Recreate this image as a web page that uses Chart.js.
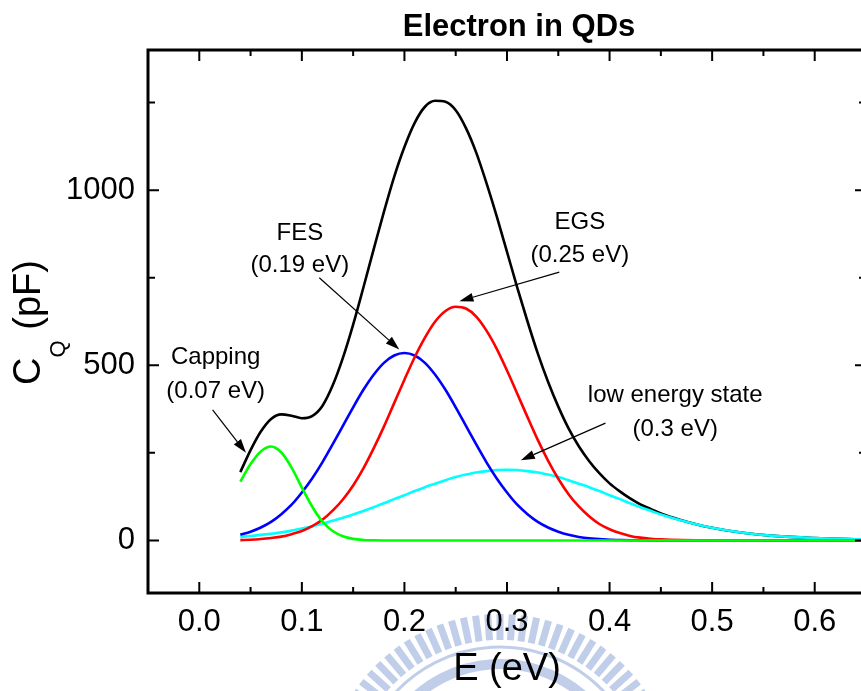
<!DOCTYPE html>
<html><head><meta charset="utf-8">
<script src="https://cdn.jsdelivr.net/npm/chart.js@4.4.0/dist/chart.umd.min.js"></script>
<style>
html,body{margin:0;padding:0;overflow:hidden;background:#fff;}
#wrap{position:relative;width:870px;height:691px;}
canvas{display:block;}
</style></head><body>
<div id="wrap"><canvas id="c" width="870" height="691" style="width:870px;height:691px"></canvas></div>
<script>
// ---- data ----
const energy = [0.04,0.05,0.06,0.07,0.08,0.09,0.10,0.11,0.12,0.13,0.14,0.15,0.16,0.17,0.18,0.19,0.20,0.21,0.22,0.23,0.24,0.25,0.26,0.27,0.28,0.29,0.30,0.31,0.32,0.33,0.34,0.35,0.36,0.37,0.38,0.39,0.40,0.41,0.42,0.43,0.44,0.45,0.47,0.50,0.53,0.56,0.60,0.65];
const cqTotal = [195,258,311,347,360,356,349,355,384,442,521,616,722,831,938,1038,1123,1192,1238,1255,1252,1228,1177,1107,1020,925,824,722,625,534,453,382,320,269,227,192,163,140,120,103,90,77,58,36,22,13,7,3];
const cqCapping = [168,218,254,268,251,208,151,97,54,27,12,4.5,1.5,0.4,0,0,0,0,0,0,0,0,0,0,0,0,0,0,0,0,0,0,0,0,0,0,0,0,0,0,0,0,0,0,0,0,0,0];
const cqFES = [16,25,37,53,75,102,137,177,223,274,327,380,430,473,507,528,535,528,507,473,430,380,327,274,223,177,137,102,75,53,37,25,16,10,6,4,2,1.3,0.7,0.4,0.2,0.1,0,0,0,0,0,0];
const cqEGS = [1,2,4,7,11,18,27,41,59,85,117,157,206,263,325,392,459,523,579,625,655,667,662,639,599,547,485,419,352,287,228,176,132,97,69,47,32,21,13,8,5,3,1,0,0,0,0,0];
const cqLowState = [10,12.5,16,19,23,28,34,40,48,56,65,74,84,95,106,118,129,141,152,162,172,181,188,194,198,201,202,201,198,194,188,181,172,162,152,141,129,118,106,95,85,74,57,36,22,13,7,3];
const xTickValues = [0.0,0.05,0.1,0.15,0.2,0.25,0.3,0.35,0.4,0.45,0.5,0.55,0.6];
const xTickLabels = [0.0,0.1,0.2,0.3,0.4,0.5,0.6];
const yTickValues = [0,250,500,750,1000,1250];
const yTickLabels = [0,500,1000];
// annotations (data coordinates)
const annoText = [["Capping","(0.07 eV)"],["FES","(0.19 eV)"],["EGS","(0.25 eV)"],["low energy state","(0.3 eV)"]];
const annoTextX = [0.016,0.098,0.371,0.464];
const annoLine1Y = [505,859,888,396];
const annoLine2Y = [408,765,796,299];
const arrowFrom = [[0.013,373],[0.117,750],[0.351,766],[0.396,335]];
const arrowTo = [[0.0455,250],[0.195,545],[0.2536,683],[0.3135,229]];

const FONT = "'Liberation Sans', Arial, Helvetica, sans-serif";
Chart.defaults.font.family = FONT;
Chart.defaults.color = '#000';

function pts(ys){ return energy.map((x,i)=>({x:x,y:ys[i]})); }

const watermark = {
  id:'watermark',
  beforeDraw(chart){
    const ctx = chart.ctx; ctx.save();
    ctx.fillStyle='#fff'; ctx.fillRect(0,0,chart.width,chart.height);
    const col='rgb(192,206,234)';
    const cx=500, cy=790;
    ctx.strokeStyle=col; ctx.lineCap='butt';
    ctx.lineWidth=7;
    for(let a=-56;a<=56.01;a+=4){
      const r=a*Math.PI/180, s=Math.sin(r), c=Math.cos(r);
      ctx.beginPath(); ctx.moveTo(cx+s*150,cy-c*150); ctx.lineTo(cx+s*176,cy-c*176); ctx.stroke();
    }
    ctx.lineWidth=3;
    ctx.beginPath(); ctx.arc(cx,cy,143,Math.PI*1.1,Math.PI*1.9); ctx.stroke();
    ctx.lineWidth=10;
    ctx.beginPath(); ctx.arc(cx,cy,126,Math.PI*1.1,Math.PI*1.9); ctx.stroke();
    ctx.restore();
  }
};

const frame = {
  id:'frame',
  afterDraw(chart){
    const ctx=chart.ctx, xs=chart.scales.x, ys=chart.scales.y;
    const {left,right,top,bottom}=chart.chartArea;
    ctx.save();
    ctx.strokeStyle='#000';
    ctx.lineWidth=2;
    xs.ticks.forEach(t=>{
      const v=t.value;
      const p=xs.getPixelForValue(v);
      const major=xTickLabels.some(l=>Math.abs(l-v)<1e-6);
      const len=major?11:6;
      ctx.beginPath(); ctx.moveTo(p,bottom); ctx.lineTo(p,bottom-len);
      ctx.moveTo(p,top); ctx.lineTo(p,top+len); ctx.stroke();
    });
    ys.ticks.forEach(t=>{
      const v=t.value;
      const p=ys.getPixelForValue(v);
      const major=yTickLabels.some(l=>Math.abs(l-v)<1e-6);
      const len=major?11:7;
      ctx.beginPath(); ctx.moveTo(left,p); ctx.lineTo(left+len,p);
      ctx.moveTo(right,p); ctx.lineTo(right-len,p); ctx.stroke();
    });
    ctx.lineWidth=3;
    ctx.strokeRect(left,top,right-left,bottom-top);

    // title
    ctx.fillStyle='#000';
    ctx.textAlign='center'; ctx.textBaseline='alphabetic';
    ctx.font='bold 31px '+FONT;
    ctx.fillText('Electron in QDs',519,36);
    // x title
    ctx.font='38px '+FONT;
    ctx.fillText('E (eV)',(left+right)/2,680);
    // y title with subscript
    ctx.save();
    ctx.translate(40,(top+bottom)/2+1);
    ctx.rotate(-Math.PI/2);
    ctx.textAlign='left';
    const fMain='38px '+FONT, fSub='22px '+FONT;
    ctx.font=fMain; const w1=ctx.measureText('C').width, w3=ctx.measureText(' (pF)').width;
    ctx.font=fSub; const w2=ctx.measureText('Q').width;
    let x0=-(w1+w2+w3)/2;
    ctx.font=fMain; ctx.fillText('C',x0,0);
    ctx.font=fSub; ctx.fillText('Q',x0+w1,25);
    ctx.font=fMain; ctx.fillText(' (pF)',x0+w1+w2,0);
    ctx.restore();

    // annotations
    ctx.font='24px '+FONT; ctx.textAlign='center';
    annoText.forEach((lines,i)=>{
      const tx=xs.getPixelForValue(annoTextX[i]);
      ctx.fillText(lines[0],tx,ys.getPixelForValue(annoLine1Y[i]));
      ctx.fillText(lines[1],tx,ys.getPixelForValue(annoLine2Y[i]));
      const x1=xs.getPixelForValue(arrowFrom[i][0]), y1=ys.getPixelForValue(arrowFrom[i][1]);
      const x2=xs.getPixelForValue(arrowTo[i][0]), y2=ys.getPixelForValue(arrowTo[i][1]);
      const ang=Math.atan2(y2-y1,x2-x1), L=14, H=4.5;
      const bx=x2-Math.cos(ang)*L, by=y2-Math.sin(ang)*L;
      ctx.lineWidth=1.2;
      ctx.beginPath(); ctx.moveTo(x1,y1); ctx.lineTo(bx,by); ctx.stroke();
      ctx.beginPath(); ctx.moveTo(x2,y2);
      ctx.lineTo(bx-Math.sin(ang)*H, by+Math.cos(ang)*H);
      ctx.lineTo(bx+Math.sin(ang)*H, by-Math.cos(ang)*H);
      ctx.closePath(); ctx.fill();
    });
    ctx.restore();
  }
};

const common = {fill:false,pointRadius:0,borderWidth:2.6,cubicInterpolationMode:'monotone'};
new Chart(document.getElementById('c'),{
  type:'line',
  data:{datasets:[
    Object.assign({label:'Capping',data:pts(cqCapping),borderColor:'#00ff00',order:1},common),
    Object.assign({label:'EGS',data:pts(cqEGS),borderColor:'#ff0000',order:2},common),
    Object.assign({label:'FES',data:pts(cqFES),borderColor:'#0000ff',order:3},common),
    Object.assign({label:'Low energy state',data:pts(cqLowState),borderColor:'#00ffff',order:4},common),
    Object.assign({label:'Total',data:pts(cqTotal),borderColor:'#000000',order:5},common)
  ]},
  options:{
    responsive:false, animation:false, devicePixelRatio:1,
    layout:{padding:{top:50,right:4,left:0,bottom:0}},
    plugins:{legend:{display:false},tooltip:{enabled:false},title:{display:false}},
    scales:{
      x:{type:'linear',min:-0.05,max:0.65,
        grid:{display:false,drawTicks:false},border:{display:false},
        afterFit(s){s.height=98;},
        afterBuildTicks(s){s.ticks=xTickValues.map(v=>({value:v}));},
        ticks:{autoSkip:false,maxRotation:0,padding:11,font:{size:31},color:'#000',
          callback(v){const m=xTickLabels.find(l=>Math.abs(l-v)<1e-6);return m===undefined?'':m.toFixed(1);}}
      },
      y:{type:'linear',min:-150,max:1400,
        grid:{display:false,drawTicks:false},border:{display:false},
        afterFit(s){s.width=148;},
        afterBuildTicks(s){s.ticks=yTickValues.map(v=>({value:v}));},
        ticks:{autoSkip:false,padding:13,font:{size:31},color:'#000',
          callback(v){const m=yTickLabels.find(l=>Math.abs(l-v)<1e-6);return m===undefined?'':String(m);}}
      }
    }
  },
  plugins:[watermark,frame]
});
</script>
</body></html>
